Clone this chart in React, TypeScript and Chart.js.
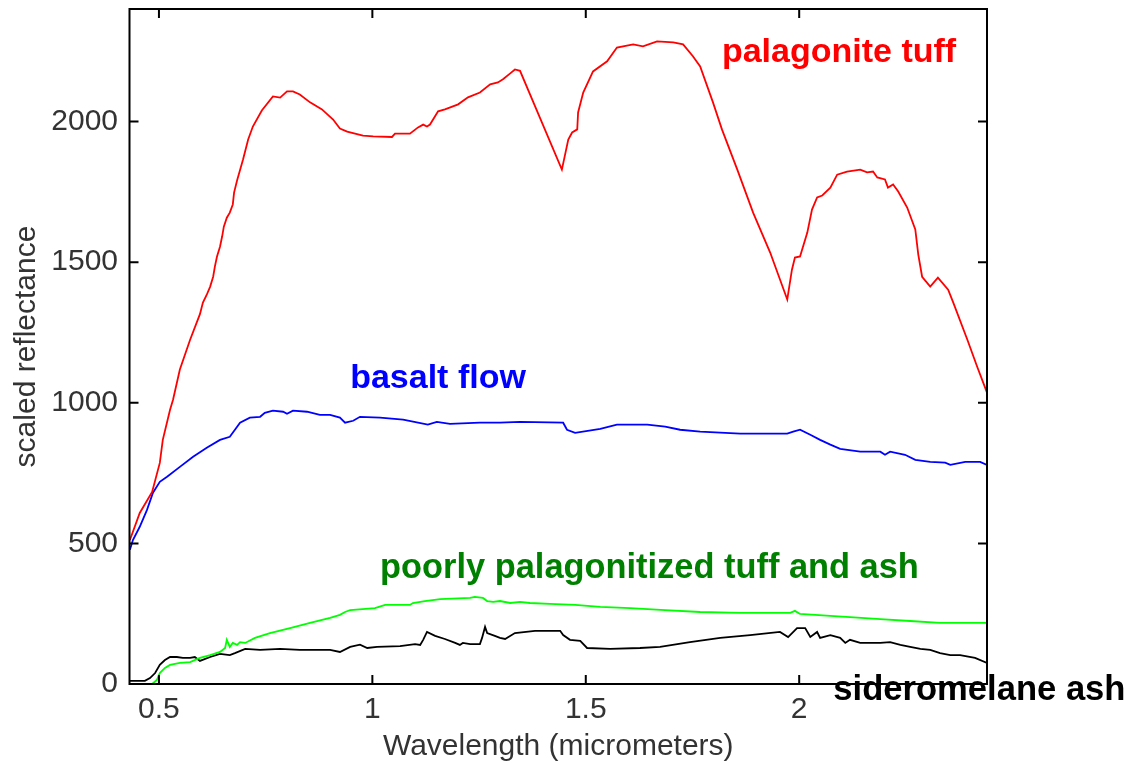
import React, { useEffect, useRef } from 'react';
import { Chart, registerables } from 'chart.js';

Chart.register(...registerables);

// ---- tick values ----
const X_TICKS = [0.5, 1, 1.5, 2];
const Y_TICKS = [0, 500, 1000, 1500, 2000];

// ---- palagonite tuff (red) ----
const PALAGONITE_X = [
  0.432, 0.455, 0.484, 0.502, 0.509, 0.526, 0.533, 0.549, 0.573, 0.596, 0.603, 0.612, 0.62, 0.627,
  0.631, 0.636, 0.643, 0.648, 0.652, 0.659, 0.666, 0.673, 0.676, 0.683, 0.697, 0.709, 0.72, 0.741,
  0.767, 0.784, 0.8, 0.814, 0.83, 0.854, 0.882, 0.908, 0.924, 0.941, 0.978, 1.002, 1.046, 1.053,
  1.088, 1.107, 1.119, 1.128, 1.135, 1.154, 1.17, 1.201, 1.224, 1.252, 1.276, 1.294, 1.306, 1.323,
  1.334, 1.346, 1.444, 1.459, 1.468, 1.48, 1.482, 1.494, 1.517, 1.55, 1.573, 1.611, 1.634, 1.667,
  1.705, 1.728, 1.751, 1.768, 1.798, 1.819, 1.855, 1.892, 1.932, 1.972, 1.983, 1.99, 2.002, 2.019,
  2.03, 2.042, 2.054, 2.073, 2.089, 2.112, 2.143, 2.159, 2.173, 2.183, 2.201, 2.208, 2.22, 2.232,
  2.253, 2.272, 2.279, 2.288, 2.307, 2.325, 2.349, 2.361, 2.394, 2.417, 2.44,
];
const PALAGONITE_Y = [
  512, 608, 683, 786, 868, 975, 1011, 1118, 1224, 1315, 1356, 1384, 1413, 1448,
  1484, 1520, 1555, 1591, 1626, 1658, 1676, 1705, 1747, 1790, 1865, 1936, 1982, 2039,
  2089, 2085, 2107, 2107, 2096, 2068, 2043, 2007, 1975, 1964, 1950, 1947, 1945, 1957,
  1957, 1979, 1989, 1982, 1989, 2036, 2043, 2061, 2086, 2103, 2132, 2139, 2150, 2171,
  2185, 2180, 1829, 1936, 1961, 1972, 2032, 2103, 2178, 2214, 2263, 2274, 2267, 2285,
  2281, 2274, 2232, 2196, 2068, 1972, 1829, 1676, 1534, 1367, 1473, 1516, 1520, 1605,
  1687, 1730, 1737, 1765, 1811, 1822, 1829, 1819, 1822, 1801, 1794, 1765, 1776, 1751,
  1694, 1616, 1527, 1448, 1413, 1445, 1402, 1356, 1224, 1128, 1036,
];

// ---- basalt flow (blue) ----
const BASALT_X = [
  0.432, 0.439, 0.455, 0.472, 0.486, 0.502, 0.519, 0.549, 0.58, 0.612, 0.643, 0.666, 0.678, 0.69,
  0.713, 0.737, 0.748, 0.767, 0.791, 0.8, 0.814, 0.847, 0.877, 0.901, 0.924, 0.936, 0.955, 0.971,
  1.018, 1.072, 1.13, 1.151, 1.182, 1.252, 1.299, 1.346, 1.447, 1.456, 1.475, 1.534, 1.573, 1.644,
  1.686, 1.721, 1.768, 1.862, 1.972, 1.986, 2.002, 2.026, 2.049, 2.073, 2.096, 2.143, 2.19, 2.201,
  2.213, 2.248, 2.272, 2.307, 2.342, 2.354, 2.389, 2.424, 2.44,
];
const BASALT_Y = [
  477, 512, 559, 619, 680, 719, 737, 772, 808, 840, 868, 879, 904, 929,
  947, 950, 964, 972, 968, 961, 972, 968, 957, 957, 947, 929, 936, 950,
  947, 940, 922, 932, 925, 929, 929, 932, 929, 904, 893, 907, 922, 922,
  915, 904, 897, 890, 890, 897, 904, 886, 868, 851, 836, 826, 826, 815,
  826, 815, 797, 790, 787, 779, 790, 790, 779,
];

// ---- poorly palagonitized tuff and ash (green) ----
const POORLY_X = [
  0.432, 0.484, 0.495, 0.502, 0.514, 0.526, 0.549, 0.573, 0.596, 0.62, 0.643, 0.655, 0.659, 0.666,
  0.673, 0.683, 0.69, 0.702, 0.725, 0.76, 0.807, 0.854, 0.901, 0.924, 0.936, 0.948, 1.006, 1.03,
  1.088, 1.095, 1.123, 1.159, 1.229, 1.24, 1.259, 1.269, 1.283, 1.299, 1.323, 1.346, 1.369, 1.416,
  1.475, 1.534, 1.604, 1.686, 1.768, 1.862, 1.979, 1.99, 2.002, 2.073, 2.119, 2.19, 2.26, 2.33,
  2.389, 2.44,
];
const POORLY_Y = [
  0, 0, 14, 39, 57, 68, 75, 78, 93, 103, 114, 128, 157, 132,
  146, 139, 149, 146, 164, 181, 199, 217, 235, 246, 256, 263, 270, 281,
  281, 288, 295, 302, 306, 310, 306, 295, 292, 295, 288, 292, 288, 285,
  281, 274, 270, 263, 256, 253, 253, 260, 249, 242, 238, 231, 224, 217,
  217, 217,
];

// ---- sideromelane ash (black) ----
const SIDEROMELANE_X = [
  0.432, 0.467, 0.479, 0.491, 0.502, 0.514, 0.526, 0.542, 0.556, 0.573, 0.584, 0.596, 0.62, 0.643,
  0.666, 0.678, 0.702, 0.737, 0.784, 0.83, 0.901, 0.924, 0.948, 0.971, 0.988, 1.011, 1.065, 1.1,
  1.112, 1.119, 1.128, 1.147, 1.17, 1.194, 1.205, 1.212, 1.229, 1.252, 1.257, 1.264, 1.269, 1.287,
  1.299, 1.311, 1.334, 1.381, 1.44, 1.447, 1.463, 1.487, 1.503, 1.557, 1.627, 1.674, 1.744, 1.815,
  1.885, 1.955, 1.974, 1.995, 2.014, 2.026, 2.042, 2.049, 2.073, 2.096, 2.108, 2.119, 2.143, 2.19,
  2.213, 2.237, 2.26, 2.284, 2.307, 2.33, 2.354, 2.377, 2.412, 2.44,
];
const SIDEROMELANE_Y = [
  11, 11, 21, 39, 68, 85, 96, 96, 93, 93, 96, 82, 96, 107,
  103, 110, 125, 121, 125, 121, 121, 114, 132, 140, 128, 132, 135, 142,
  139, 157, 185, 171, 160, 146, 139, 146, 142, 142, 164, 203, 181, 171,
  164, 160, 181, 189, 189, 174, 157, 153, 128, 125, 128, 132, 149, 164,
  174, 185, 167, 199, 199, 167, 185, 164, 174, 164, 146, 157, 146, 146,
  149, 139, 132, 125, 121, 110, 103, 103, 93, 75,
];

// ---- in-plot annotations (anchored in data coordinates) ----
const ANNOTATIONS = [
  { text: 'palagonite tuff', x: 1.819, y: 2210, color: '#ff0000', size: 34 },
  { text: 'basalt flow', x: 0.948, y: 1053, color: '#0000ff', size: 34 },
  { text: 'poorly palagonitized tuff and ash', x: 1.018, y: 377, color: '#008000', size: 34.4 },
  { text: 'sideromelane ash', x: 2.08, y: -57, color: '#000000', size: 34.6 },
];

const toPoints = (xs: number[], ys: number[]) => xs.map((x, i) => ({ x, y: ys[i] }));

const FONT = '"Liberation Sans", Arial, Helvetica, sans-serif';

const framePlugin = {
  id: 'frameTicks',
  afterDatasetsDraw(chart: any) {
    const { ctx, chartArea: a, scales } = chart;
    const xs = scales.x;
    const ys = scales.y;
    const L = 9;
    ctx.save();
    ctx.strokeStyle = '#000';
    ctx.lineWidth = 2;
    ctx.strokeRect(a.left, a.top, a.right - a.left, a.bottom - a.top);
    ctx.beginPath();
    xs.ticks.forEach((t: any) => {
      const px = xs.getPixelForValue(t.value);
      ctx.moveTo(px, a.bottom);
      ctx.lineTo(px, a.bottom - L);
      ctx.moveTo(px, a.top);
      ctx.lineTo(px, a.top + L);
    });
    ys.ticks.forEach((t: any) => {
      const py = ys.getPixelForValue(t.value);
      ctx.moveTo(a.left, py);
      ctx.lineTo(a.left + L, py);
      ctx.moveTo(a.right, py);
      ctx.lineTo(a.right - L, py);
    });
    ctx.stroke();
    ctx.restore();
  },
  afterDraw(chart: any) {
    const { ctx, scales } = chart;
    ctx.save();
    ctx.textAlign = 'left';
    ctx.textBaseline = 'alphabetic';
    ANNOTATIONS.forEach((an) => {
      ctx.font = `bold ${an.size}px ${FONT}`;
      ctx.fillStyle = an.color;
      ctx.fillText(an.text, scales.x.getPixelForValue(an.x), scales.y.getPixelForValue(an.y));
    });
    ctx.restore();
  },
};

export default function App() {
  const ref = useRef<HTMLCanvasElement | null>(null);

  useEffect(() => {
    if (!ref.current) return;
    const tickFont = { family: FONT, size: 30 };
    const chart = new Chart(ref.current, {
      type: 'line',
      data: {
        datasets: [
          { label: 'palagonite tuff', data: toPoints(PALAGONITE_X, PALAGONITE_Y), borderColor: '#ff0000' },
          { label: 'basalt flow', data: toPoints(BASALT_X, BASALT_Y), borderColor: '#0000ff' },
          { label: 'poorly palagonitized tuff and ash', data: toPoints(POORLY_X, POORLY_Y), borderColor: '#00ff00' },
          { label: 'sideromelane ash', data: toPoints(SIDEROMELANE_X, SIDEROMELANE_Y), borderColor: '#000000' },
        ].map((d) => ({ ...d, borderWidth: 1.8, pointRadius: 0, tension: 0, fill: false })),
      },
      options: {
        responsive: false,
        animation: false,
        layout: { padding: { left: 0, top: 9, right: 149, bottom: 0 } },
        plugins: { legend: { display: false }, tooltip: { enabled: false } },
        scales: {
          x: {
            type: 'linear',
            min: 0.431,
            max: 2.44,
            grid: { display: false, drawTicks: false },
            border: { display: false },
            ticks: {
              font: tickFont,
              color: '#333',
              padding: 7.5,
              maxRotation: 0,
              autoSkip: false,
              callback: (v: any) => String(v),
            },
            title: {
              display: true,
              text: 'Wavelength (micrometers)',
              font: tickFont,
              color: '#333',
              padding: { top: 0, bottom: 0 },
            },
            afterBuildTicks: (s: any) => {
              s.ticks = X_TICKS.map((v) => ({ value: v }));
            },
            afterFit: (s: any) => {
              s.height = 81;
              s.paddingLeft = 0;
              s.paddingRight = 0;
            },
          },
          y: {
            type: 'linear',
            min: 0,
            max: 2400,
            grid: { display: false, drawTicks: false },
            border: { display: false },
            ticks: {
              font: tickFont,
              color: '#333',
              padding: 11.5,
              autoSkip: false,
              callback: (v: any) => String(v),
            },
            title: {
              display: true,
              text: 'scaled reflectance',
              font: tickFont,
              color: '#333',
              padding: { top: 9, bottom: 0 },
            },
            afterBuildTicks: (s: any) => {
              s.ticks = Y_TICKS.map((v) => ({ value: v }));
            },
            afterFit: (s: any) => {
              s.width = 129.5;
              s.paddingTop = 0;
              s.paddingBottom = 0;
            },
          },
        },
      },
      plugins: [framePlugin],
    } as any);
    return () => chart.destroy();
  }, []);

  return (
    <div style={{ position: 'absolute', left: 0, top: 0, width: 1136, height: 765, background: '#fff' }}>
      <canvas ref={ref} width={1136} height={765} />
    </div>
  );
}
